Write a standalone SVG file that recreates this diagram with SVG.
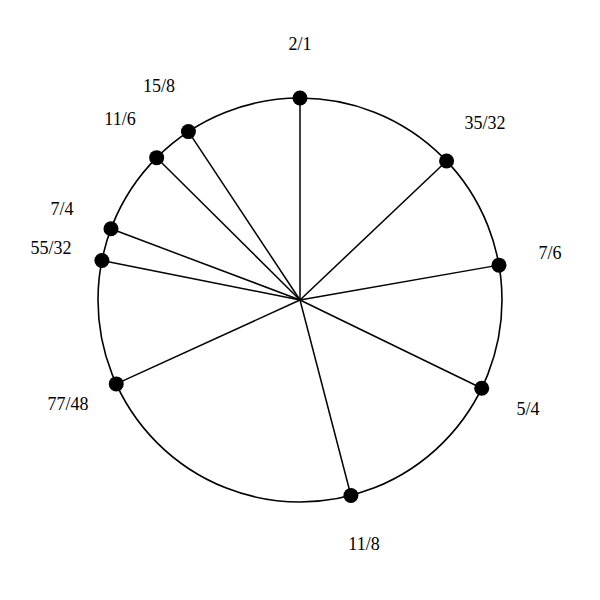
<svg xmlns="http://www.w3.org/2000/svg" width="600" height="600" viewBox="0 0 600 600">
<style>
.ring{fill:none;stroke:#000;stroke-width:1.6}
.spoke{stroke:#000;stroke-width:1.5}
.dot{fill:#000}
.lbl{font-family:"Liberation Serif","Times New Roman",serif;font-size:18px;fill:#000;text-anchor:middle}
</style>
<rect width="600" height="600" fill="#fff"/>
<circle class="ring" cx="300" cy="300" r="202"/>
<g id="connectors">
<line class="spoke" x1="300" y1="300" x2="300" y2="98"/>
<line class="spoke" x1="300" y1="300" x2="446.59" y2="161.02"/>
<line class="spoke" x1="300" y1="300" x2="498.97" y2="265.13"/>
<line class="spoke" x1="300" y1="300" x2="481.72" y2="388.22"/>
<line class="spoke" x1="300" y1="300" x2="350.93" y2="495.47"/>
<line class="spoke" x1="300" y1="300" x2="116.25" y2="383.90"/>
<line class="spoke" x1="300" y1="300" x2="101.90" y2="260.45"/>
<line class="spoke" x1="300" y1="300" x2="110.98" y2="228.77"/>
<line class="spoke" x1="300" y1="300" x2="156.66" y2="157.67"/>
<line class="spoke" x1="300" y1="300" x2="188.43" y2="131.60"/>
</g>
<g id="n-2-1"><circle class="dot" cx="300" cy="98" r="7.5"/><text class="lbl" x="300" y="50">2/1</text></g>
<g id="n-35-32"><circle class="dot" cx="446.59" cy="161.02" r="7.5"/><text class="lbl" x="485" y="129">35/32</text></g>
<g id="n-7-6"><circle class="dot" cx="498.97" cy="265.13" r="7.5"/><text class="lbl" x="550" y="259">7/6</text></g>
<g id="n-5-4"><circle class="dot" cx="481.72" cy="388.22" r="7.5"/><text class="lbl" x="528" y="415">5/4</text></g>
<g id="n-11-8"><circle class="dot" cx="350.93" cy="495.47" r="7.5"/><text class="lbl" x="364" y="550">11/8</text></g>
<g id="n-77-48"><circle class="dot" cx="116.25" cy="383.90" r="7.5"/><text class="lbl" x="68" y="410">77/48</text></g>
<g id="n-55-32"><circle class="dot" cx="101.90" cy="260.45" r="7.5"/><text class="lbl" x="51" y="254">55/32</text></g>
<g id="n-7-4"><circle class="dot" cx="110.98" cy="228.77" r="7.5"/><text class="lbl" x="62" y="215">7/4</text></g>
<g id="n-11-6"><circle class="dot" cx="156.66" cy="157.67" r="7.5"/><text class="lbl" x="120" y="125">11/6</text></g>
<g id="n-15-8"><circle class="dot" cx="188.43" cy="131.60" r="7.5"/><text class="lbl" x="159" y="92">15/8</text></g>
</svg>
